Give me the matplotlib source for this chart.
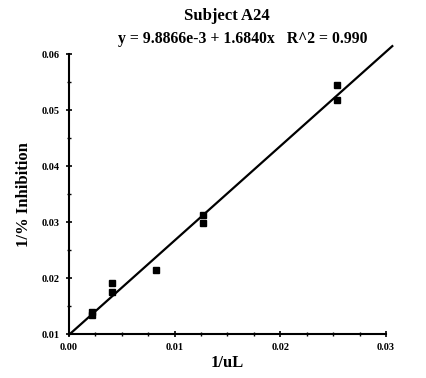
import matplotlib
matplotlib.use("Agg")
import matplotlib.pyplot as plt
from matplotlib.ticker import MultipleLocator

# reciprocal data
inv_ul = [0.0022, 0.0022, 0.0041, 0.0041, 0.0082, 0.0127, 0.0127, 0.0254, 0.0254]
inv_inhib = [0.0135, 0.0139, 0.0175, 0.0191, 0.0214, 0.0298, 0.0313, 0.0518, 0.0545]
intercept, slope = 9.8866e-3, 1.6840
fit_x = [0.0, 0.0306]
x_ticks = [0.00, 0.01, 0.02, 0.03]
y_ticks = [0.01, 0.02, 0.03, 0.04, 0.05, 0.06]

plt.rcParams["font.family"] = ["Liberation Serif", "DejaVu Serif"]
plt.rcParams["font.weight"] = "bold"

fig = plt.figure(figsize=(4.26, 3.78), dpi=100)
ax = fig.add_axes([0.162, 0.116, 0.744, 0.741])

ax.plot(fit_x, [intercept + slope * x for x in fit_x], color="black", lw=1.6,
        clip_on=False, zorder=2)
ax.plot(inv_ul, inv_inhib, "s", color="black", ms=4.5, clip_on=False, zorder=3)

ax.set_xlim(0, 0.03)
ax.set_ylim(0.01, 0.06)
ax.set_xticks(x_ticks)
ax.set_yticks(y_ticks)
ax.set_xticklabels([f"{v:.2f}" for v in x_ticks])
ax.set_yticklabels([f"{v:.2f}" for v in y_ticks])
ax.xaxis.set_minor_locator(MultipleLocator(0.0025))
ax.yaxis.set_minor_locator(MultipleLocator(0.005))
ax.tick_params(which="major", direction="inout", length=5, width=1.2,
               labelsize=7.5, pad=4)
ax.tick_params(which="minor", direction="inout", length=3, width=1)
for s in ("top", "right"):
    ax.spines[s].set_visible(False)
for s in ("left", "bottom"):
    ax.spines[s].set_linewidth(1.5)

ax.set_xlabel("1/uL", fontsize=12, fontweight="bold", labelpad=2)
ax.set_ylabel("1/% Inhibition", fontsize=12, fontweight="bold", labelpad=7)

fig.text(0.533, 0.957, "Subject A24", ha="center", va="center",
         fontsize=12, fontweight="bold")
fig.text(0.57, 0.898, "y = 9.8866e-3 + 1.6840x   R^2 = 0.990", ha="center",
         va="center", fontsize=11.3, fontweight="bold")

fig.savefig("out.png", dpi=100)
